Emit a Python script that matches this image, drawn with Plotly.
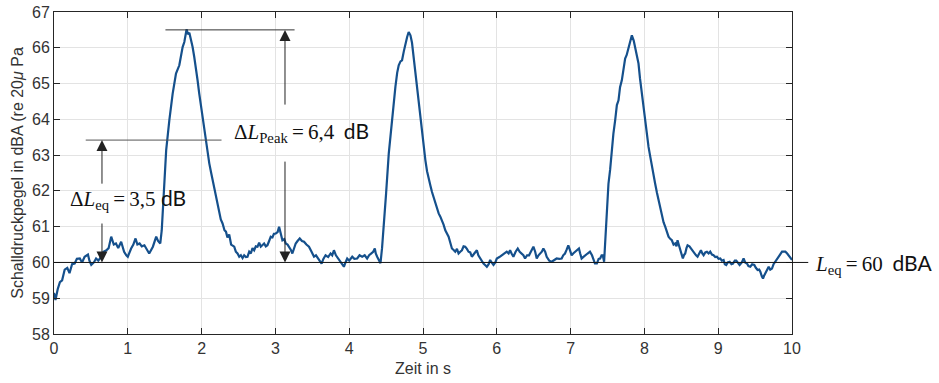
import plotly.graph_objects as go

# --- data ---
time_s = [0.00,0.02,0.05,0.08,0.11,0.145,0.18,0.21,0.245,0.28,0.31,0.35,0.38,0.415,0.46,0.48,0.505,0.54,0.57,0.60,
0.64,0.67,0.71,0.74,0.775,0.81,0.84,0.87,0.91,0.95,0.98,1.00,1.045,1.075,1.105,1.13,1.16,1.19,1.225,1.26,
1.29,1.34,1.385,1.41,1.44,1.46,1.475,1.5,1.52,1.563,1.608,1.653,1.698,1.743,1.766,1.797,1.815,1.834,1.86,1.878,
1.90,1.923,1.945,1.968,1.99,2.014,2.04,2.059,2.08,2.104,2.13,2.149,2.17,2.194,2.22,2.239,2.26,2.284,2.31,2.33,
2.35,2.374,2.40,2.442,2.464,2.487,2.51,2.532,2.555,2.577,2.60,2.622,2.645,2.667,2.69,2.712,2.735,2.757,2.78,2.802,
2.825,2.847,2.87,2.892,2.915,2.937,2.96,2.98,3.005,3.03,3.05,3.07,3.095,3.12,3.14,3.165,3.185,3.21,3.23,3.25,
3.275,3.30,3.33,3.36,3.388,3.42,3.455,3.49,3.523,3.55,3.58,3.60,3.626,3.65,3.68,3.715,3.748,3.77,3.793,3.82,
3.852,3.89,3.928,3.95,3.973,4.00,4.041,4.07,4.108,4.14,4.176,4.21,4.243,4.27,4.302,4.325,4.347,4.36,4.379,4.40,
4.424,4.445,4.47,4.50,4.536,4.56,4.581,4.605,4.626,4.65,4.671,4.695,4.716,4.74,4.761,4.785,4.806,4.83,4.851,4.875,
4.897,4.92,4.942,4.965,4.987,5.01,5.032,5.055,5.077,5.10,5.122,5.145,5.167,5.19,5.212,5.235,5.257,5.28,5.302,5.325,
5.347,5.37,5.392,5.415,5.437,5.46,5.482,5.505,5.527,5.55,5.572,5.595,5.617,5.64,5.662,5.695,5.73,5.75,5.775,5.80,
5.82,5.845,5.865,5.89,5.91,5.93,5.955,5.98,6.00,6.035,6.068,6.10,6.135,6.16,6.18,6.20,6.225,6.255,6.284,6.31,
6.338,6.36,6.383,6.41,6.437,6.465,6.496,6.52,6.541,6.565,6.586,6.61,6.631,6.655,6.676,6.71,6.744,6.78,6.811,6.845,
6.879,6.90,6.924,6.945,6.969,6.99,7.014,7.035,7.059,7.085,7.113,7.13,7.149,7.17,7.194,7.23,7.262,7.29,7.33,7.356,
7.38,7.40,7.42,7.436,7.454,7.481,7.513,7.536,7.558,7.58,7.604,7.627,7.649,7.67,7.694,7.715,7.739,7.76,7.785,7.81,
7.83,7.855,7.875,7.90,7.92,7.94,7.965,7.99,8.011,8.035,8.056,8.08,8.101,8.125,8.146,8.17,8.191,8.215,8.236,8.26,
8.282,8.305,8.327,8.35,8.372,8.395,8.417,8.435,8.449,8.465,8.485,8.50,8.521,8.535,8.553,8.57,8.585,8.61,8.63,8.655,
8.675,8.70,8.72,8.745,8.766,8.785,8.802,8.825,8.847,8.87,8.892,8.915,8.937,8.96,8.983,9.005,9.028,9.05,9.073,9.09,
9.109,9.13,9.155,9.18,9.20,9.225,9.245,9.27,9.29,9.32,9.344,9.365,9.39,9.41,9.435,9.46,9.489,9.51,9.534,9.555,
9.571,9.59,9.607,9.62,9.638,9.66,9.684,9.705,9.729,9.75,9.774,9.80,9.82,9.845,9.865,9.89,9.91,9.935,9.955,9.98,10.0]

level_dba = [59.15,58.95,59.25,59.45,59.5,59.8,59.85,59.7,59.95,59.97,60.1,60.11,60.0,60.16,60.22,60.05,59.93,60.0,60.11,60.05,
60.16,60.3,60.34,60.4,60.72,60.5,60.53,60.4,60.58,60.3,60.2,60.16,60.39,60.5,60.67,60.5,60.53,60.45,60.48,60.35,
60.25,60.44,60.72,60.6,60.53,60.9,61.46,62.58,63.14,63.98,64.72,65.28,65.51,66.02,66.16,66.52,66.38,66.42,66.2,66.02,
65.75,65.47,65.1,64.72,64.4,64.07,63.7,63.32,63.05,62.77,62.5,62.3,62.1,61.83,61.6,61.41,61.2,61.09,60.9,60.86,
60.7,60.78,60.5,60.44,60.3,60.25,60.16,60.2,60.12,60.2,60.15,60.16,60.3,60.25,60.4,60.34,60.45,60.44,60.55,60.44,
60.5,60.53,60.45,60.48,60.6,60.72,60.7,60.8,60.81,60.85,61.0,60.8,60.62,60.65,60.53,60.5,60.44,60.35,60.25,60.4,
60.53,60.6,60.67,60.6,60.58,60.5,60.44,60.3,60.16,60.2,60.11,60.05,59.97,60.1,60.2,60.15,60.25,60.2,60.34,60.2,
60.11,60.0,59.88,60.0,60.11,60.05,60.16,60.1,60.11,60.2,60.16,60.2,60.11,60.2,60.25,60.3,60.39,60.25,60.16,60.05,
59.98,60.4,61.0,61.93,63.04,63.6,64.07,64.5,64.91,65.3,65.51,65.62,65.65,65.9,66.12,66.3,66.44,66.35,66.14,65.7,
65.2,64.78,64.35,63.95,63.6,63.2,62.86,62.55,62.3,62.15,61.97,61.8,61.65,61.5,61.37,61.28,61.18,61.05,60.9,60.8,
60.72,60.55,60.39,60.35,60.3,60.38,60.25,60.3,60.34,60.45,60.44,60.38,60.3,60.28,60.16,60.25,60.34,60.2,60.11,60.05,
59.97,59.92,59.88,59.95,60.07,60.0,59.93,60.0,60.11,60.15,60.2,60.25,60.3,60.25,60.34,60.25,60.16,60.3,60.39,60.3,
60.25,60.2,60.11,60.2,60.2,60.3,60.44,60.3,60.11,60.2,60.25,60.3,60.39,60.3,60.16,60.05,60.02,60.08,60.11,60.1,
60.11,60.2,60.25,60.35,60.48,60.35,60.2,60.25,60.3,60.35,60.39,60.25,60.11,60.15,60.2,60.25,60.3,60.2,59.97,59.97,
60.1,60.11,60.2,60.2,60.02,61.0,62.2,62.6,63.14,63.6,63.98,64.4,64.53,64.9,65.09,65.4,65.7,65.8,66.02,66.2,
66.35,66.2,66.02,65.8,65.56,65.15,64.72,64.35,63.98,63.6,63.23,62.95,62.67,62.45,62.2,61.95,61.74,61.5,61.28,61.12,
61.0,60.85,60.72,60.66,60.62,60.5,60.53,60.45,60.62,60.5,60.34,60.2,60.11,60.2,60.25,60.4,60.48,60.45,60.39,60.3,
60.25,60.2,60.16,60.25,60.34,60.25,60.2,60.28,60.3,60.25,60.3,60.22,60.2,60.15,60.16,60.1,60.11,60.05,60.07,59.95,
59.93,60.0,60.02,59.95,59.97,60.05,60.05,59.98,59.93,60.0,60.11,60.0,59.97,59.9,59.88,59.95,59.93,59.85,59.79,59.8,
59.74,59.62,59.55,59.62,59.69,59.8,59.88,59.8,59.83,59.95,60.02,60.1,60.16,60.25,60.3,60.3,60.3,60.25,60.2,60.15,60.07]

x_ticks = [0, 1, 2, 3, 4, 5, 6, 7, 8, 9, 10]
y_ticks = [58, 59, 60, 61, 62, 63, 64, 65, 66, 67]

L_eq = 60.0
peak_level = 66.5
eq_level = 63.42

AX = "#262626"
SERIF = "Liberation Serif"
SANS = "Lato"

fig = go.Figure()
fig.add_trace(go.Scatter(x=time_s, y=level_dba, mode="lines",
                         line=dict(color="#15508c", width=2.2), showlegend=False, hoverinfo="skip"))

axis_common = dict(showline=True, linecolor=AX, linewidth=1, mirror="ticks", ticks="inside",
                   ticklen=6, tickcolor=AX, showgrid=True, gridcolor="#e3e3e3", gridwidth=1,
                   zeroline=False, automargin=False, ticklabeloverflow="allow",
                   tickfont=dict(family="Liberation Sans", size=16, color="#333333"))
fig.update_xaxes(range=[0, 10], tickvals=x_ticks, title=dict(text="Zeit in s", standoff=6,
                 font=dict(family="Liberation Sans", size=16, color="#333333")), **axis_common)
fig.update_yaxes(range=[58, 67], tickvals=y_ticks,
                 title=dict(text="Schalldruckpegel in dBA (re 20<i>μ</i> Pa", standoff=4,
                            font=dict(family="Liberation Sans", size=16, color="#333333")), **axis_common)

# reference lines
fig.add_shape(type="line", xref="paper", yref="y", x0=0, x1=1.022, y0=L_eq, y1=L_eq,
              line=dict(color="#111111", width=1))
fig.add_shape(type="line", xref="x", yref="y", x0=1.51, x1=3.26, y0=peak_level, y1=peak_level,
              line=dict(color="#333333", width=1))
fig.add_shape(type="line", xref="x", yref="y", x0=0.43, x1=2.27, y0=eq_level, y1=eq_level,
              line=dict(color="#555555", width=1))

def arrow(x, y_tip, y_tail):
    fig.add_annotation(x=x, y=y_tip, ax=x, ay=y_tail, xref="x", yref="y", axref="x", ayref="y",
                       text="", showarrow=True, arrowhead=2, arrowsize=2.2, arrowwidth=1,
                       arrowcolor="#222222")

arrow(3.13, peak_level, 64.37)
arrow(3.13, L_eq, 62.86)
arrow(0.65, eq_level, 62.16)
arrow(0.65, L_eq, 61.13)

def math_text(math, unit):
    return (f'<span style="font-family:{SERIF}">{math}</span> {unit}')

EQ = "\u2009=\u2009"
fig.add_annotation(x=2.41, y=63.65, xref="x", yref="y", xanchor="left", yanchor="middle",
                   text=math_text(f"Δ<i>L</i><sub>Peak</sub>{EQ}6,4\u2009", "dB"), showarrow=False,
                   font=dict(family=SANS, size=21, color="#111111"))
fig.add_annotation(x=0.19, y=61.76, xref="x", yref="y", xanchor="left", yanchor="middle",
                   text=math_text(f"Δ<i>L</i><sub>eq</sub>{EQ}3,5", "dB"), showarrow=False,
                   font=dict(family=SANS, size=21, color="#111111"))
fig.add_annotation(x=1.029, y=L_eq - 0.05, xref="paper", yref="y", xanchor="left", yanchor="middle",
                   text=math_text(f"<i>L</i><sub>eq</sub>{EQ}60\u2009", "dBA"), showarrow=False,
                   font=dict(family=SANS, size=21, color="#111111"))

fig.update_layout(width=939, height=383, margin=dict(l=54, r=147, t=12, b=49),
                  paper_bgcolor="white", plot_bgcolor="white")

# remove the default page margin so the figure fills the window exactly
fig.write_html("out.html", config={"displayModeBar": False},
               post_script="document.body.style.margin='0';document.body.style.overflow='hidden';")
